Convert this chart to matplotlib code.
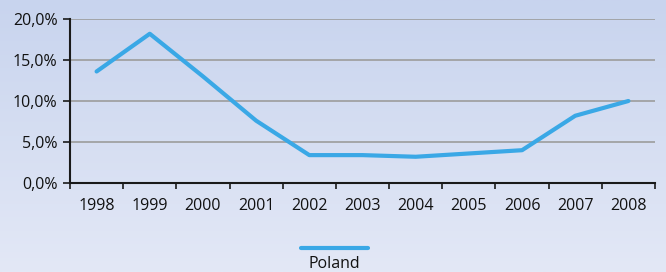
import numpy as np
import matplotlib
matplotlib.use("Agg")
import matplotlib.pyplot as plt
from matplotlib.colors import LinearSegmentedColormap

years = ["1998", "1999", "2000", "2001", "2002", "2003", "2004", "2005", "2006", "2007", "2008"]
poland = [13.6, 18.2, 13.0, 7.6, 3.4, 3.4, 3.2, 3.6, 4.0, 8.2, 10.0]
yticks = [0, 5, 10, 15, 20]
series_name = "Poland"

plt.rcParams['font.family'] = ['Open Sans', 'DejaVu Sans']

W, H = 666, 272
fig = plt.figure(figsize=(W / 100, H / 100), dpi=100)

# background gradient
bg = fig.add_axes([0, 0, 1, 1], zorder=-10)
cmap = LinearSegmentedColormap.from_list("bg", ["#c8d4ee", "#e3e8f6"])
grad = np.linspace(0, 1, 256).reshape(-1, 1)
bg.imshow(grad, aspect="auto", cmap=cmap, extent=[0, 1, 0, 1], origin="upper")
bg.axis("off")

left, right = 70 / W, 655 / W
top, bottom = 19 / H, 183 / H
ax = fig.add_axes([left, 1 - bottom, right - left, bottom - top])
ax.patch.set_alpha(0)

x = np.arange(len(years))
ax.plot(x, poland, color="#3aa8e6", lw=3, solid_capstyle="round", solid_joinstyle="round", zorder=3)

ax.set_xlim(-0.5, len(years) - 0.5)
ax.set_ylim(0, 20)
ax.set_yticks(yticks)
ax.set_yticklabels([f"{v:.1f}%".replace(".", ",") for v in yticks], fontsize=11.5, color="#111111")
ax.yaxis.grid(True, color="#9c9c9c", lw=1.2)
ax.set_axisbelow(True)

ax.set_xticks(x)
ax.set_xticklabels(years, fontsize=11.5, color="#111111")
ax.tick_params(axis="x", which="major", length=0, pad=11)
ax.set_xticks(np.arange(len(years) + 1) - 0.5, minor=True)
ax.tick_params(axis="x", which="minor", length=4, width=1.2, direction="out", color="#1a1a1a")
ax.tick_params(axis="y", length=5, width=1.2, direction="out", color="#1a1a1a", pad=4)

for s in ["top", "right"]:
    ax.spines[s].set_visible(False)
for s in ["left", "bottom"]:
    ax.spines[s].set_color("#1a1a1a")
    ax.spines[s].set_linewidth(1.5)

# legend (manual)
fig.lines.append(plt.Line2D([301 / W, 368 / W], [1 - 248 / H, 1 - 248 / H], color="#3aa8e6", lw=3,
                            solid_capstyle="round", transform=fig.transFigure))
fig.text(334 / W, 1 - 264 / H, series_name, ha="center", va="center", fontsize=11.5, color="#111111")

fig.savefig("out.png", dpi=100)
